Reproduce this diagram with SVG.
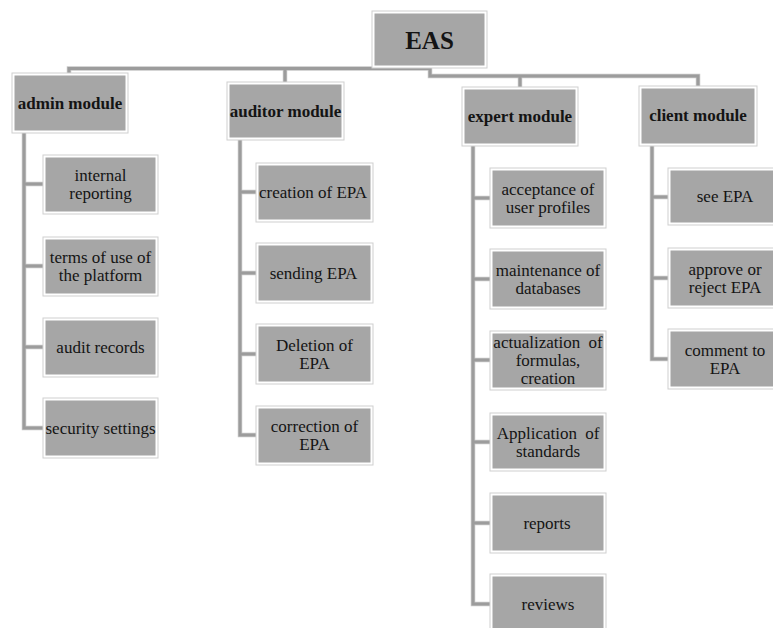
<svg xmlns="http://www.w3.org/2000/svg" width="773" height="628" viewBox="0 0 773 628">
<style>
text{font-family:'Liberation Serif',serif !important;fill:#141414;text-anchor:middle;dominant-baseline:central}
.lbl{font-size:17px}
.mod{font-size:17px;font-weight:bold}
.top{font-size:25px;font-weight:bold}
.frame{fill:#ffffff;stroke:#cfcfcf;stroke-width:1}
.box{fill:#a6a6a6}
.conn{fill:none;stroke:#9c9c9c;stroke-width:3}
.connhl{fill:none;stroke:#c8c8c8;stroke-width:4.5}
</style>
<rect width="773" height="628" fill="#ffffff"/>
<g id="connectors">
  <g class="connhl">
    <path d="M69,74 V68.5 H430 V76 H698 V86"/>
    <path d="M285,68.5 V82"/>
    <path d="M520,76 V87"/>
    <path d="M24,133 V428 H43 M24,184 H43 M24,266 H43 M24,347 H43"/>
    <path d="M240,140 V435 H256 M240,192 H256 M240,273 H256 M240,354 H256"/>
    <path d="M473,146 V604 H490 M473,198 H490 M473,279 H490 M473,360 H490 M473,442 H490 M473,523 H490"/>
    <path d="M652,146 V359 H668 M652,197 H668 M652,278 H668"/>
  </g>
  <g class="conn">
    <path d="M69,74 V68.5 H430 V76 H698 V86"/>
    <path d="M285,68.5 V82"/>
    <path d="M520,76 V87"/>
    <path d="M24,133 V428 H43 M24,184 H43 M24,266 H43 M24,347 H43"/>
    <path d="M240,140 V435 H256 M240,192 H256 M240,273 H256 M240,354 H256"/>
    <path d="M473,146 V604 H490 M473,198 H490 M473,279 H490 M473,360 H490 M473,442 H490 M473,523 H490"/>
    <path d="M652,146 V359 H668 M652,197 H668 M652,278 H668"/>
  </g>
</g>
<g id="eas">
  <rect class="frame" x="372" y="11" width="115" height="57"/>
  <rect class="box" x="374.5" y="13.5" width="110" height="52"/>
  <text class="top" font-family="Liberation Serif" x="429.5" y="40">EAS</text>
</g>
<g id="admin-module">
  <rect class="frame" x="12" y="73" width="116" height="60"/>
  <rect class="box" x="14.5" y="75.5" width="111" height="55"/>
  <text class="mod" font-family="Liberation Serif" x="70" y="103">admin module</text>
</g>
<g id="auditor-module">
  <rect class="frame" x="227" y="82" width="117" height="58"/>
  <rect class="box" x="229.5" y="84.5" width="112" height="53"/>
  <text class="mod" font-family="Liberation Serif" x="285.5" y="111">auditor module</text>
</g>
<g id="expert-module">
  <rect class="frame" x="462" y="87" width="116" height="59"/>
  <rect class="box" x="464.5" y="89.5" width="111" height="54"/>
  <text class="mod" font-family="Liberation Serif" x="520" y="116.5">expert module</text>
</g>
<g id="client-module">
  <rect class="frame" x="639" y="86" width="118" height="60"/>
  <rect class="box" x="641.5" y="88.5" width="113" height="55"/>
  <text class="mod" font-family="Liberation Serif" x="698" y="115.5">client module</text>
</g>
<g id="internal-reporting">
  <rect class="frame" x="43" y="155" width="115" height="59"/>
  <rect class="box" x="45.5" y="157.5" width="110" height="54"/>
  <text class="lbl" font-family="Liberation Serif" x="100.5" y="175.5">internal</text>
  <text class="lbl" font-family="Liberation Serif" x="100.5" y="193.5">reporting</text>
</g>
<g id="terms-of-use">
  <rect class="frame" x="43" y="237" width="115" height="59"/>
  <rect class="box" x="45.5" y="239.5" width="110" height="54"/>
  <text class="lbl" font-family="Liberation Serif" x="100.5" y="257.5">terms of use of</text>
  <text class="lbl" font-family="Liberation Serif" x="100.5" y="275.5">the platform</text>
</g>
<g id="audit-records">
  <rect class="frame" x="43" y="318" width="115" height="59"/>
  <rect class="box" x="45.5" y="320.5" width="110" height="54"/>
  <text class="lbl" font-family="Liberation Serif" x="100.5" y="347.5">audit records</text>
</g>
<g id="security-settings">
  <rect class="frame" x="43" y="398" width="115" height="60"/>
  <rect class="box" x="45.5" y="400.5" width="110" height="55"/>
  <text class="lbl" font-family="Liberation Serif" x="100.5" y="428">security settings</text>
</g>
<g id="creation-of-epa">
  <rect class="frame" x="256" y="163" width="117" height="59"/>
  <rect class="box" x="258.5" y="165.5" width="112" height="54"/>
  <text class="lbl" font-family="Liberation Serif" x="313" y="192">creation of EPA</text>
</g>
<g id="sending-epa">
  <rect class="frame" x="256" y="243" width="117" height="60"/>
  <rect class="box" x="258.5" y="245.5" width="112" height="55"/>
  <text class="lbl" font-family="Liberation Serif" x="313.5" y="273">sending EPA</text>
</g>
<g id="deletion-of-epa">
  <rect class="frame" x="256" y="324" width="117" height="60"/>
  <rect class="box" x="258.5" y="326.5" width="112" height="55"/>
  <text class="lbl" font-family="Liberation Serif" x="314.5" y="345">Deletion of</text>
  <text class="lbl" font-family="Liberation Serif" x="314.5" y="363">EPA</text>
</g>
<g id="correction-of-epa">
  <rect class="frame" x="256" y="406" width="117" height="59"/>
  <rect class="box" x="258.5" y="408.5" width="112" height="54"/>
  <text class="lbl" font-family="Liberation Serif" x="314.5" y="426">correction of</text>
  <text class="lbl" font-family="Liberation Serif" x="314.5" y="444">EPA</text>
</g>
<g id="acceptance-of-user-profiles">
  <rect class="frame" x="490" y="168" width="116" height="60"/>
  <rect class="box" x="492.5" y="170.5" width="111" height="55"/>
  <text class="lbl" font-family="Liberation Serif" x="548" y="189">acceptance of</text>
  <text class="lbl" font-family="Liberation Serif" x="548" y="207">user profiles</text>
</g>
<g id="maintenance-of-databases">
  <rect class="frame" x="490" y="249" width="116" height="60"/>
  <rect class="box" x="492.5" y="251.5" width="111" height="55"/>
  <text class="lbl" font-family="Liberation Serif" x="548" y="270">maintenance of</text>
  <text class="lbl" font-family="Liberation Serif" x="548" y="288">databases</text>
</g>
<g id="actualization-of-formulas">
  <rect class="frame" x="490" y="331" width="116" height="59"/>
  <rect class="box" x="492.5" y="333.5" width="111" height="54"/>
  <text class="lbl" font-family="Liberation Serif" x="548" y="342" word-spacing="4">actualization of</text>
  <text class="lbl" font-family="Liberation Serif" x="548" y="360">formulas,</text>
  <text class="lbl" font-family="Liberation Serif" x="548" y="378">creation</text>
</g>
<g id="application-of-standards">
  <rect class="frame" x="490" y="413" width="116" height="58"/>
  <rect class="box" x="492.5" y="415.5" width="111" height="53"/>
  <text class="lbl" font-family="Liberation Serif" x="548" y="433" word-spacing="4">Application of</text>
  <text class="lbl" font-family="Liberation Serif" x="548" y="451">standards</text>
</g>
<g id="reports">
  <rect class="frame" x="490" y="493" width="116" height="60"/>
  <rect class="box" x="492.5" y="495.5" width="111" height="55"/>
  <text class="lbl" font-family="Liberation Serif" x="547" y="523">reports</text>
</g>
<g id="reviews">
  <rect class="frame" x="490" y="574" width="116" height="60"/>
  <rect class="box" x="492.5" y="576.5" width="111" height="55"/>
  <text class="lbl" font-family="Liberation Serif" x="548" y="604">reviews</text>
</g>
<g id="see-epa">
  <rect class="frame" x="668" y="168" width="114" height="57"/>
  <rect class="box" x="670.5" y="170.5" width="109" height="52"/>
  <text class="lbl" font-family="Liberation Serif" x="725" y="196.5">see EPA</text>
</g>
<g id="approve-or-reject-epa">
  <rect class="frame" x="668" y="248" width="114" height="60"/>
  <rect class="box" x="670.5" y="250.5" width="109" height="55"/>
  <text class="lbl" font-family="Liberation Serif" x="725" y="269">approve or</text>
  <text class="lbl" font-family="Liberation Serif" x="725" y="287">reject EPA</text>
</g>
<g id="comment-to-epa">
  <rect class="frame" x="668" y="329" width="114" height="60"/>
  <rect class="box" x="670.5" y="331.5" width="109" height="55"/>
  <text class="lbl" font-family="Liberation Serif" x="725" y="350">comment to</text>
  <text class="lbl" font-family="Liberation Serif" x="725" y="368">EPA</text>
</g>
</svg>
